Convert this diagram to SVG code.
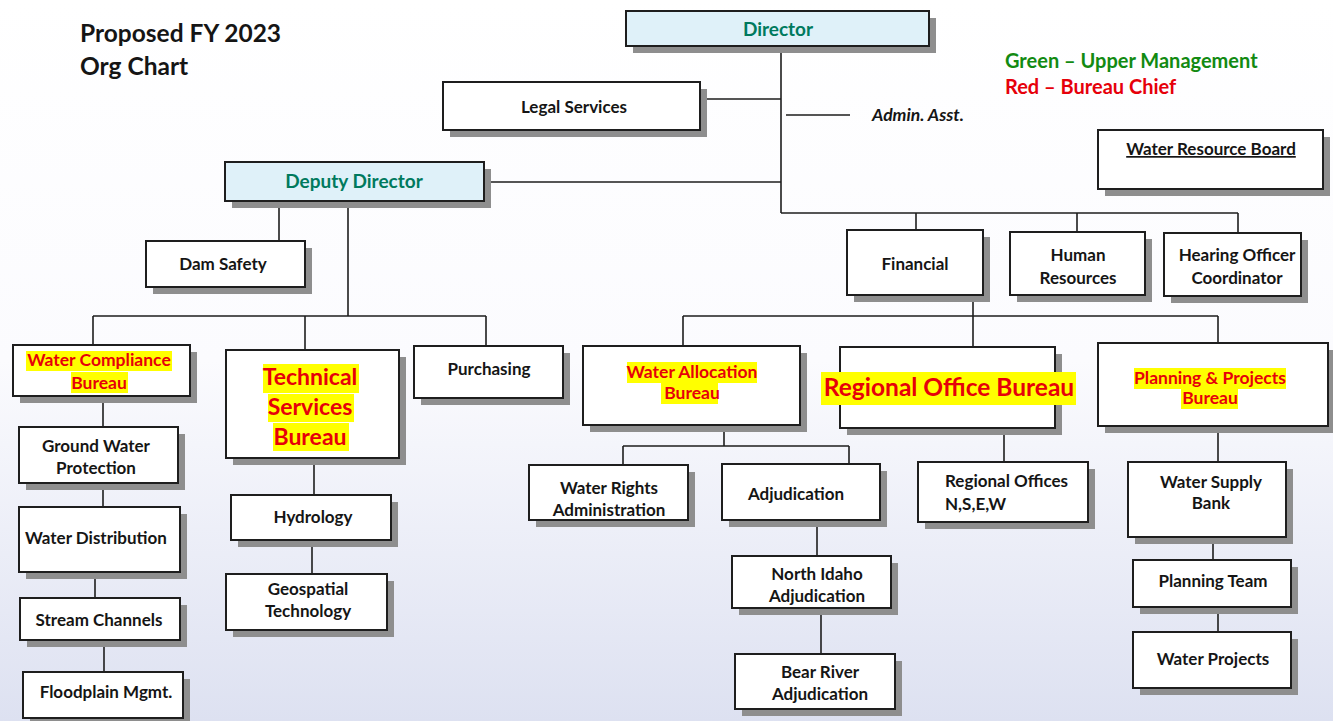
<svg xmlns="http://www.w3.org/2000/svg" width="1333" height="721" viewBox="0 0 1333 721">
<defs>
<linearGradient id="bg" x1="0" y1="0" x2="0" y2="1">
<stop offset="0" stop-color="#ffffff"/>
<stop offset="0.5" stop-color="#fbfbfe"/>
<stop offset="1" stop-color="#dde1f1"/>
</linearGradient>
<style>
.sh{fill:#8e8e8e}
.bx{fill:#ffffff;stroke:#1e1e1e;stroke-width:2}
.bl{fill:#dff1f9;stroke:#1e1e1e;stroke-width:2}
.t{font-family:Lato,"Liberation Sans",sans-serif;font-weight:700;font-size:17px;fill:#151515;text-anchor:middle}
.g{fill:#007a5e;font-size:19px}
.r{fill:#e6000a;font-size:17.5px}
.big{font-size:23px}
.hl{fill:#ffff00}
.ln{stroke:#1e1e1e;stroke-width:1.6;fill:none}
</style>
</defs>
<rect x="0" y="0" width="1333" height="721" fill="url(#bg)"/>

<g id="title">
<text class="t" x="80" y="42" style="text-anchor:start;font-size:24.5px">Proposed FY 2023</text>
<text class="t" x="80" y="75" style="text-anchor:start;font-size:24.5px">Org Chart</text>
</g>
<g id="legend">
<text class="t" x="1005" y="68" style="text-anchor:start;font-size:20px;fill:#128a12">Green – Upper Management</text>
<text class="t" x="1005" y="94" style="text-anchor:start;font-size:20px;fill:#e6000a">Red – Bureau Chief</text>
</g>

<g id="connectors">
<path class="ln" d="M781 46V213M700 99H781M484 182H781M786 115H850"/>
<path class="ln" d="M781 213H1238M916 213V230M1077 213V232M1238 213V233"/>
<path class="ln" d="M973 295V347M683 316H1218M683 316V346M1218 316V343"/>
<path class="ln" d="M279 201V241M348 201V316M93 316H486M93 316V345M305 316V350M486 316V346"/>
<path class="ln" d="M103 396V427M103 483V507M95 572V598M104 640V672"/>
<path class="ln" d="M314 458V495M312 540V574"/>
<path class="ln" d="M724 425V446M623 446H849M623 446V465M849 446V464M817 520V556M821 608V654"/>
<path class="ln" d="M1004 428V462"/>
<path class="ln" d="M1218 426V462M1213 537V560M1218 607V632"/>
</g>

<g id="director">
<rect class="sh" x="633" y="18" width="303" height="35"/>
<rect class="bl" x="626" y="11" width="303" height="35"/>
<text class="t g" x="778" y="36">Director</text>
</g>
<g id="legal-services">
<rect class="sh" x="450" y="89" width="257" height="48"/>
<rect class="bx" x="443" y="82" width="257" height="48"/>
<text class="t" x="574" y="113">Legal Services</text>
</g>
<g id="admin-asst">
<text class="t" x="872" y="121" style="text-anchor:start;font-style:italic;font-size:17.5px">Admin. Asst.</text>
</g>
<g id="water-resource-board">
<rect class="sh" x="1105" y="137" width="225" height="59"/>
<rect class="bx" x="1098" y="130" width="225" height="59"/>
<text class="t" x="1211" y="155" text-decoration="underline">Water Resource Board</text>
</g>
<g id="deputy-director">
<rect class="sh" x="232" y="169" width="259" height="39"/>
<rect class="bl" x="225" y="162" width="259" height="39"/>
<text class="t g" x="354" y="188">Deputy Director</text>
</g>
<g id="dam-safety">
<rect class="sh" x="153" y="248" width="159" height="46"/>
<rect class="bx" x="146" y="241" width="159" height="46"/>
<text class="t" x="223" y="270">Dam Safety</text>
</g>
<g id="financial">
<rect class="sh" x="854" y="237" width="136" height="65"/>
<rect class="bx" x="847" y="230" width="136" height="65"/>
<text class="t" x="915" y="270">Financial</text>
</g>
<g id="human-resources">
<rect class="sh" x="1017" y="239" width="135" height="63"/>
<rect class="bx" x="1010" y="232" width="135" height="63"/>
<text class="t" x="1078" y="261">Human</text>
<text class="t" x="1078" y="284">Resources</text>
</g>
<g id="hearing-officer">
<rect class="sh" x="1171" y="240" width="137" height="63"/>
<rect class="bx" x="1164" y="233" width="137" height="63"/>
<text class="t" x="1237" y="261">Hearing Officer</text>
<text class="t" x="1237" y="284">Coordinator</text>
</g>

<g id="water-compliance-bureau">
<rect class="sh" x="20" y="352" width="177" height="51"/>
<rect class="bx" x="13" y="345" width="177" height="51"/>
<rect class="hl" x="26" y="351" width="146" height="20"/>
<rect class="hl" x="71" y="372" width="57" height="21"/>
<text class="t r" x="99" y="366">Water Compliance</text>
<text class="t r" x="99" y="389">Bureau</text>
</g>
<g id="technical-services-bureau">
<rect class="sh" x="233" y="357" width="173" height="108"/>
<rect class="bx" x="226" y="350" width="173" height="108"/>
<rect class="hl" x="263" y="364" width="96" height="29"/>
<rect class="hl" x="268" y="394" width="86" height="28"/>
<rect class="hl" x="273" y="423" width="76" height="28"/>
<text class="t r big" x="310" y="385">Technical</text>
<text class="t r big" x="310" y="415">Services</text>
<text class="t r big" x="310" y="445">Bureau</text>
</g>
<g id="purchasing">
<rect class="sh" x="421" y="353" width="149" height="52"/>
<rect class="bx" x="414" y="346" width="149" height="52"/>
<text class="t" x="489" y="375">Purchasing</text>
</g>
<g id="water-allocation-bureau">
<rect class="sh" x="590" y="353" width="217" height="79"/>
<rect class="bx" x="583" y="346" width="217" height="79"/>
<rect class="hl" x="627" y="362" width="130" height="21"/>
<rect class="hl" x="661" y="383" width="57" height="21"/>
<text class="t r" x="692" y="378">Water Allocation</text>
<text class="t r" x="692" y="399">Bureau</text>
</g>
<g id="regional-office-bureau">
<rect class="sh" x="847" y="354" width="215" height="81"/>
<rect class="bx" x="840" y="347" width="215" height="81"/>
<rect class="hl" x="821" y="372" width="255" height="33"/>
<text class="t r" x="949" y="396" style="font-size:24.5px">Regional Office Bureau</text>
</g>
<g id="planning-projects-bureau">
<rect class="sh" x="1105" y="350" width="230" height="83"/>
<rect class="bx" x="1098" y="343" width="230" height="83"/>
<rect class="hl" x="1134" y="368" width="152" height="21"/>
<rect class="hl" x="1181" y="388" width="57" height="21"/>
<text class="t r" x="1210" y="384">Planning &amp; Projects</text>
<text class="t r" x="1210" y="404">Bureau</text>
</g>

<g id="ground-water-protection">
<rect class="sh" x="26" y="434" width="159" height="56"/>
<rect class="bx" x="19" y="427" width="159" height="56"/>
<text class="t" x="96" y="452">Ground Water</text>
<text class="t" x="96" y="474">Protection</text>
</g>
<g id="water-distribution">
<rect class="sh" x="26" y="514" width="161" height="65"/>
<rect class="bx" x="19" y="507" width="161" height="65"/>
<text class="t" x="25" y="544" style="text-anchor:start">Water Distribution</text>
</g>
<g id="stream-channels">
<rect class="sh" x="27" y="605" width="160" height="42"/>
<rect class="bx" x="20" y="598" width="160" height="42"/>
<text class="t" x="99" y="626">Stream Channels</text>
</g>
<g id="floodplain-mgmt">
<rect class="sh" x="30" y="679" width="160" height="46"/>
<rect class="bx" x="23" y="672" width="160" height="46"/>
<text class="t" x="106" y="698">Floodplain Mgmt.</text>
</g>
<g id="hydrology">
<rect class="sh" x="238" y="502" width="160" height="45"/>
<rect class="bx" x="231" y="495" width="160" height="45"/>
<text class="t" x="313" y="523">Hydrology</text>
</g>
<g id="geospatial-technology">
<rect class="sh" x="233" y="581" width="161" height="56"/>
<rect class="bx" x="226" y="574" width="161" height="56"/>
<text class="t" x="308" y="595">Geospatial</text>
<text class="t" x="308" y="617">Technology</text>
</g>
<g id="water-rights-administration">
<rect class="sh" x="536" y="472" width="159" height="55"/>
<rect class="bx" x="529" y="465" width="159" height="55"/>
<text class="t" x="609" y="494">Water Rights</text>
<text class="t" x="609" y="516">Administration</text>
</g>
<g id="adjudication">
<rect class="sh" x="729" y="471" width="158" height="56"/>
<rect class="bx" x="722" y="464" width="158" height="56"/>
<text class="t" x="796" y="500">Adjudication</text>
</g>
<g id="north-idaho-adjudication">
<rect class="sh" x="739" y="563" width="159" height="52"/>
<rect class="bx" x="732" y="556" width="159" height="52"/>
<text class="t" x="817" y="580">North Idaho</text>
<text class="t" x="817" y="602">Adjudication</text>
</g>
<g id="bear-river-adjudication">
<rect class="sh" x="742" y="661" width="160" height="55"/>
<rect class="bx" x="735" y="654" width="160" height="55"/>
<text class="t" x="820" y="678">Bear River</text>
<text class="t" x="820" y="700">Adjudication</text>
</g>
<g id="regional-offices">
<rect class="sh" x="925" y="469" width="170" height="60"/>
<rect class="bx" x="918" y="462" width="170" height="60"/>
<text class="t" x="945" y="487" style="text-anchor:start">Regional Offices</text>
<text class="t" x="945" y="510" style="text-anchor:start">N,S,E,W</text>
</g>
<g id="water-supply-bank">
<rect class="sh" x="1135" y="469" width="158" height="75"/>
<rect class="bx" x="1128" y="462" width="158" height="75"/>
<text class="t" x="1211" y="488">Water Supply</text>
<text class="t" x="1211" y="509">Bank</text>
</g>
<g id="planning-team">
<rect class="sh" x="1140" y="567" width="158" height="47"/>
<rect class="bx" x="1133" y="560" width="158" height="47"/>
<text class="t" x="1213" y="587">Planning Team</text>
</g>
<g id="water-projects">
<rect class="sh" x="1140" y="639" width="158" height="56"/>
<rect class="bx" x="1133" y="632" width="158" height="56"/>
<text class="t" x="1213" y="665">Water Projects</text>
</g>
</svg>
